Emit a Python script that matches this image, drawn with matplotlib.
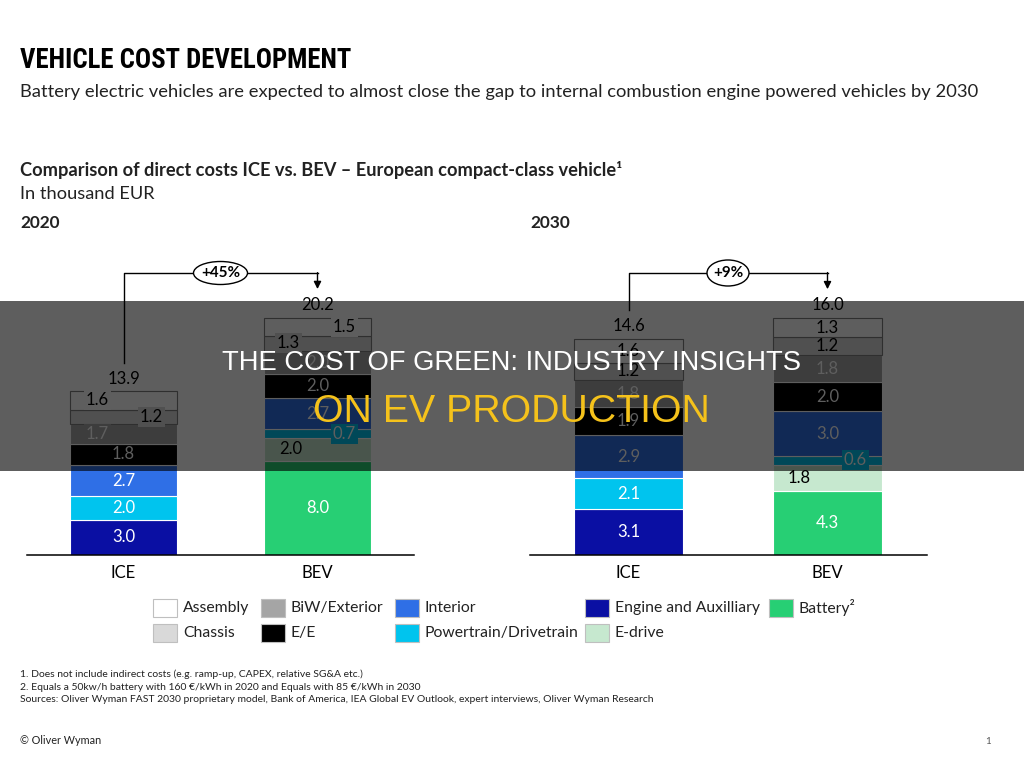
import matplotlib
matplotlib.use('Agg')
import matplotlib.pyplot as plt
from matplotlib.patches import Rectangle, Ellipse
from matplotlib import font_manager

# ---- data (thousand EUR) ----
components = ['Engine and Auxilliary', 'Battery', 'E-drive', 'Powertrain/Drivetrain',
              'Interior', 'E/E', 'BiW/Exterior', 'Chassis', 'Assembly']
categories = ['ICE', 'BEV']
ice_2020 = [3.0, 0, 0, 2.0, 2.7, 1.8, 1.7, 1.2, 1.6]
bev_2020 = [0, 8.0, 2.0, 0.7, 2.7, 2.0, 2.0, 1.3, 1.5]
ice_2030 = [3.1, 0, 0, 2.1, 2.9, 1.9, 1.8, 1.2, 1.6]
bev_2030 = [0, 4.3, 1.8, 0.6, 3.0, 2.0, 1.8, 1.2, 1.3]
totals_2020 = [13.9, 20.2]
totals_2030 = [14.6, 16.0]
growth = ['+45%', '+9%']

colors = {
    'Assembly': '#ffffff', 'Chassis': '#d9d9d9', 'BiW/Exterior': '#a5a5a5',
    'E/E': '#000000', 'Interior': '#2f6fe6', 'Powertrain/Drivetrain': '#00c4ee',
    'Engine and Auxilliary': '#0a0fa3', 'E-drive': '#c6e8cf', 'Battery': '#27cf74',
}
dark_text = {'Assembly', 'Chassis', 'E-drive'}

legend_rows = [
    ['Assembly', 'BiW/Exterior', 'Interior', 'Engine and Auxilliary', 'Battery'],
    ['Chassis', 'E/E', 'Powertrain/Drivetrain', 'E-drive'],
]
legend_names = {'Battery': 'Battery\u00b2'}

# label nudges (pixels) for small segments
shift = {
    ('2020', 0, 'Assembly'): -26, ('2020', 0, 'Chassis'): 28, ('2020', 0, 'BiW/Exterior'): -26,
    ('2020', 1, 'Assembly'): 27, ('2020', 1, 'Chassis'): -29,
    ('2020', 1, 'Powertrain/Drivetrain'): 27, ('2020', 1, 'E-drive'): -27,
    ('2030', 1, 'Powertrain/Drivetrain'): 28, ('2030', 1, 'E-drive'): -28,
}

fonts = font_manager.fontManager.ttflist
installed = {f.name for f in fonts}


def pick(*names):
    for n in names:
        if n in installed:
            return n
    return 'DejaVu Sans'


body = pick('Lato', 'Open Sans', 'DejaVu Sans')
banner = pick('Liberation Sans', 'DejaVu Sans')

# a condensed heavy face for the headline, if one is around
title_kw = dict(family=pick('Roboto Condensed', 'Liberation Sans Narrow', 'Roboto'), weight='bold')
if title_kw['family'] == 'Roboto' and any(f.name == 'DejaVu Sans' and f.stretch == 'condensed'
                                          for f in fonts):
    title_kw = dict(family='DejaVu Sans', weight='bold', stretch='condensed')

W, H = 1024, 768
fig = plt.figure(figsize=(10.24, 7.68), dpi=100)
renderer = fig.canvas.get_renderer()


def fx(x):
    return x / W


def fy(y):
    return 1 - y / H


def put(x, y, s, size, width=None, **kw):
    kw.setdefault('family', body)
    kw.setdefault('va', 'center')
    t = fig.text(fx(x), fy(y), s, fontsize=size, **kw)
    if width:
        w = t.get_window_extent(renderer).width
        t.set_fontsize(size * width / w)
    return t


# ---- headings ----
put(20, 60, 'VEHICLE COST DEVELOPMENT', 24, width=332, **title_kw)
put(20, 92, 'Battery electric vehicles are expected to almost close the gap to internal '
    'combustion engine powered vehicles by 2030', 14, width=957, color='#222222')
put(20, 170, 'Comparison of direct costs ICE vs. BEV \u2013 European compact-class vehicle\u00b9',
    13, width=600, weight='bold', color='#222222')
put(20, 194, 'In thousand EUR', 13, width=134, color='#222222')
put(20, 223, '2020', 13, width=40, weight='bold', color='#222222')
put(530, 223, '2030', 13, width=40, weight='bold', color='#222222')

# ---- the two stacked panels ----
panels = [
    ('2020', [ice_2020, bev_2020], totals_2020, growth[0], 27, 414, 123.5, 317.5, 11.73, 54, 23),
    ('2030', [ice_2030, bev_2030], totals_2030, growth[1], 530, 927, 628.5, 827.5, 14.8, 42, 26),
]
base_px, top_px = 555, 250

for year, stacks, totals, pct, x0, x1, c0, c1, ppu, ew, eh in panels:
    unit = c1 - c0
    ax = fig.add_axes([fx(x0), fy(base_px), (x1 - x0) / W, (base_px - top_px) / H])
    ax.set_xlim((x0 - c0) / unit, (x1 - c0) / unit)
    ax.set_ylim(0, (base_px - top_px) / ppu)
    for s in ['top', 'right', 'left']:
        ax.spines[s].set_visible(False)
    ax.spines['bottom'].set_linewidth(1.1)
    ax.set_yticks([])
    ax.set_xticks(range(len(categories)), categories, fontsize=12, family=body)
    ax.tick_params(axis='x', length=0, pad=7)
    ax.patch.set_alpha(0)

    for i, vals in enumerate(stacks):
        bottom = 0
        for comp, v in zip(components, vals):
            if v == 0:
                continue
            edge = '#7f7f7f' if comp in ('Assembly', 'Chassis') else 'white'
            ax.bar(i, v, bottom=bottom, width=0.55, color=colors[comp],
                   edgecolor=edge, linewidth=0.8)
            dx = shift.get((year, i, comp), 0) / unit
            tc = 'black' if comp in dark_text else 'white'
            box = None
            if dx:
                box = dict(boxstyle='square,pad=0.12', fc=colors[comp], ec='none')
            ax.text(i + dx, bottom + v / 2, f'{v:.1f}', ha='center', va='center',
                    fontsize=12, color=tc, family=body, bbox=box)
            bottom += v
        ax.text(i, totals[i] + 13 / ppu, f'{totals[i]:.1f}', ha='center', va='center',
                fontsize=12, family=body)

    # growth bracket
    gap = 29 / ppu
    level = (base_px - 273) / ppu
    ax.plot([0, 0, 1], [totals[0] + gap, level, level], color='black', lw=1,
            clip_on=False, zorder=2)
    ax.annotate('', xy=(1, totals[1] + gap), xytext=(1, level + 0.03),
                arrowprops=dict(arrowstyle='-|>', color='black', lw=1,
                                mutation_scale=11, shrinkA=0, shrinkB=0),
                annotation_clip=False)
    ax.add_patch(Ellipse((0.5, level), ew / unit, eh / ppu, fc='white', ec='black',
                         lw=1, zorder=3, clip_on=False))
    ax.text(0.5, level, pct, ha='center', va='center', fontsize=11, weight='bold',
            family=body, zorder=4)

# ---- legend ----
col_x = [153, 261, 395, 585, 769]
row_y = [608, 633]
leg_texts = []
for r, row in enumerate(legend_rows):
    for c, comp in enumerate(row):
        fig.patches.append(Rectangle((fx(col_x[c]), fy(row_y[r] + 9)), 24 / W, 18 / H,
                                     transform=fig.transFigure, fc=colors[comp],
                                     ec='#bfbfbf', lw=0.8))
        leg_texts.append(put(col_x[c] + 30, row_y[r], legend_names.get(comp, comp), 12,
                             color='#222222'))
ref = leg_texts[3]
scale = 144 / ref.get_window_extent(renderer).width
for t in leg_texts:
    t.set_fontsize(t.get_fontsize() * scale)

# ---- footnotes ----
notes = [
    '1. Does not include indirect costs (e.g. ramp-up, CAPEX, relative SG&A etc.)',
    '2. Equals a 50kw/h battery with 160 \u20ac/kWh in 2020 and Equals with 85 \u20ac/kWh in 2030',
    'Sources: Oliver Wyman FAST 2030 proprietary model, Bank of America, IEA Global EV Outlook, '
    'expert interviews, Oliver Wyman Research',
]
last = put(20, 699, notes[2], 8, width=636, color='#222222')
fs = last.get_fontsize()
put(20, 674, notes[0], fs, color='#222222')
put(20, 687, notes[1], fs, color='#222222')
put(20, 741, '\u00a9 Oliver Wyman', fs * 1.05, color='#222222')
put(985, 741, '1', 7, color='#555555')

# ---- dark banner across the middle ----
fig.patches.append(Rectangle((0, fy(471)), 1, 170 / H, transform=fig.transFigure,
                             fc='black', alpha=0.63, ec='none', zorder=20))
put(511, 363, 'THE COST OF GREEN: INDUSTRY INSIGHTS', 20, width=578, family=banner,
    color='white', ha='center', zorder=21)
put(511, 412, 'ON EV PRODUCTION', 28, width=397, family=banner,
    color='#f5c21b', ha='center', zorder=21)

fig.savefig('out.png', dpi=100)
